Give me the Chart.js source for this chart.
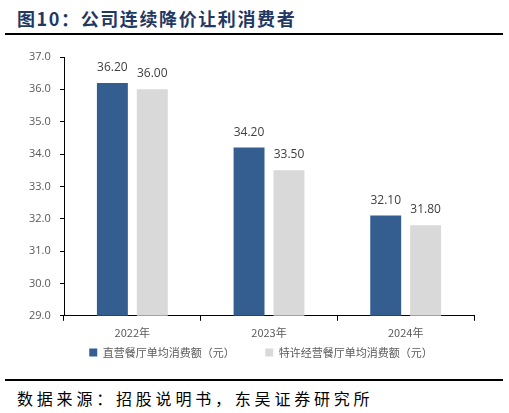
<!DOCTYPE html>
<html>
<head>
<meta charset="utf-8">
<script src="https://cdn.jsdelivr.net/npm/chart.js@4.4.0/dist/chart.umd.min.js"></script>
<style>
  body { margin: 0; background: #fff; width: 509px; height: 413px; position: relative; overflow: hidden; }
  .title { position: absolute; left: 17px; top: 5px; font: bold 18px "Noto Sans CJK SC", sans-serif; color: #1f3864; letter-spacing: 1.6px; }
  .rule { position: absolute; left: 5px; width: 498px; height: 2px; background: #000; }
  .source { position: absolute; left: 17px; top: 386px; font: 16px "Noto Sans CJK SC", sans-serif; color: #000; letter-spacing: 3.8px; }
  #wrap { position: absolute; left: 0; top: 40px; width: 509px; height: 332px; }
</style>
</head>
<body>
<div class="title">图10：公司连续降价让利消费者</div>
<div class="rule" style="top:33px"></div>
<div id="wrap"><canvas id="myChart"></canvas></div>
<div class="rule" style="top:379px"></div>
<div class="source">数据来源：招股说明书，东吴证券研究所</div>
<script>
const categories = ["2022年", "2023年", "2024年"];
const directStore = [36.20, 34.20, 32.10];
const franchiseStore = [36.00, 33.50, 31.80];
const seriesNames = ["直营餐厅单均消费额（元）", "特许经营餐厅单均消费额（元）"];

// data labels above each bar
const labelPlugin = {
  id: 'barLabels',
  afterDatasetsDraw(chart) {
    const ctx = chart.ctx;
    ctx.save();
    ctx.font = '12px "Open Sans", sans-serif';
    ctx.fillStyle = '#404040';
    ctx.textAlign = 'center';
    ctx.textBaseline = 'alphabetic';
    chart.data.datasets.forEach((ds, i) => {
      chart.getDatasetMeta(i).data.forEach((bar, j) => {
        ctx.fillText(ds.data[j].toFixed(2), bar.x, bar.y - 12);
      });
    });
    ctx.restore();
  }
};

const ctx = document.getElementById('myChart').getContext('2d');
const myChart = new Chart(ctx, {
  type: 'bar',
  data: {
    labels: categories,
    datasets: [{
      label: seriesNames[0] + '\u3000\u3000\u3000',
      data: directStore,
      backgroundColor: '#345e8f'
    }, {
      label: seriesNames[1],
      data: franchiseStore,
      backgroundColor: '#d9d9d9'
    }]
  },
  options: {
    responsive: true,
    maintainAspectRatio: false,
    animation: false,
    layout: { padding: { left: 48, right: 35, top: 17, bottom: 4 } },
    datasets: { bar: { categoryPercentage: 0.584, barPercentage: 0.775 } },
    plugins: {
      tooltip: { enabled: false },
      legend: {
        position: 'bottom',
        labels: {
          boxWidth: 8, boxHeight: 8, padding: 3,
          color: '#595959',
          font: { family: '"Noto Sans CJK SC", sans-serif', size: 11 }
        }
      }
    },
    scales: {
      x: {
        grid: { drawOnChartArea: false, drawTicks: true, tickLength: 5, color: '#000', offset: true },
        border: { color: '#000', width: 1 },
        ticks: { color: '#595959', font: { family: '"Noto Sans CJK SC", sans-serif', size: 11 }, padding: 5 }
      },
      y: {
        min: 29, max: 37,
        grid: { drawOnChartArea: false, drawTicks: true, tickLength: 4, color: '#000' },
        border: { color: '#000', width: 1 },
        ticks: { stepSize: 1, color: '#595959', font: { family: '"Open Sans", sans-serif', size: 11 },
          mirror: true, crossAlign: 'far', padding: -35,
          callback: v => v.toFixed(1) },
        afterFit: s => { s.width = 16; }
      }
    }
  },
  plugins: [labelPlugin]
});
</script>
</body>
</html>
